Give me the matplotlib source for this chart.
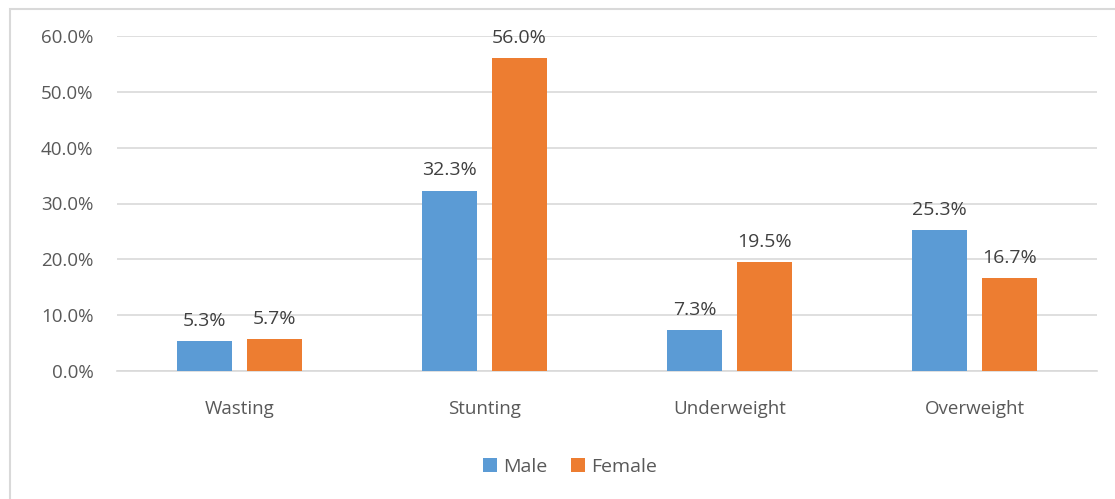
import numpy as np
import matplotlib.pyplot as plt
from matplotlib.patches import Rectangle

categories = ['Wasting', 'Stunting', 'Underweight', 'Overweight']
male = [5.3, 32.3, 7.3, 25.3]
female = [5.7, 56.0, 19.5, 16.7]
yticks = [0, 10, 20, 30, 40, 50, 60]

plt.rcParams['font.family'] = ['Open Sans', 'DejaVu Sans']
txt = '#595959'

fig = plt.figure(figsize=(11.15, 4.99), dpi=100)
ax = fig.add_axes([117/1115, 1 - 371/499, 980/1115, 335/499])

# outer chart border (cut off at right/bottom like the reference)
fig.patches.append(Rectangle((10/1115, -0.1), 1.2, 1.1 - 9/499, transform=fig.transFigure,
                             fill=False, edgecolor='#D9D9D9', linewidth=1.5))

x = np.arange(len(categories))
w = 0.224
b1 = ax.bar(x - 0.142, male, w, color='#5B9BD5', label='Male', zorder=3)
b2 = ax.bar(x + 0.142, female, w, color='#ED7D31', label='Female', zorder=3)

for bars, vals in ((b1, male), (b2, female)):
    for r, v in zip(bars, vals):
        ax.text(r.get_x() + r.get_width() / 2, v + 2.0, f'{v:.1f}%', ha='center', va='bottom',
                fontsize=14, color='#404040')

ax.set_xlim(-0.5, 3.5)
ax.set_ylim(0, 60)
ax.set_yticks(yticks)
ax.set_yticklabels([f'{t:.1f}%' for t in yticks], fontsize=13.5, color=txt)
ax.set_xticks(x)
ax.set_xticklabels(categories, fontsize=13.5, color=txt)
ax.tick_params(length=0)
ax.tick_params(axis='y', pad=17)
ax.tick_params(axis='x', pad=21)
ax.grid(axis='y', color='#D9D9D9', linewidth=1.2, zorder=0)
for s in ['top', 'right', 'left']:
    ax.spines[s].set_visible(False)
ax.spines['bottom'].set_color('#D9D9D9')
ax.spines['bottom'].set_linewidth(1.2)

leg = fig.legend(loc='center', bbox_to_anchor=(570/1115, 1 - 467/499), ncol=2, frameon=False,
                 fontsize=14, handlelength=0.75, handleheight=0.75, columnspacing=1.2, handletextpad=0.3)
for t in leg.get_texts():
    t.set_color(txt)

fig.savefig('out.png', dpi=100)
